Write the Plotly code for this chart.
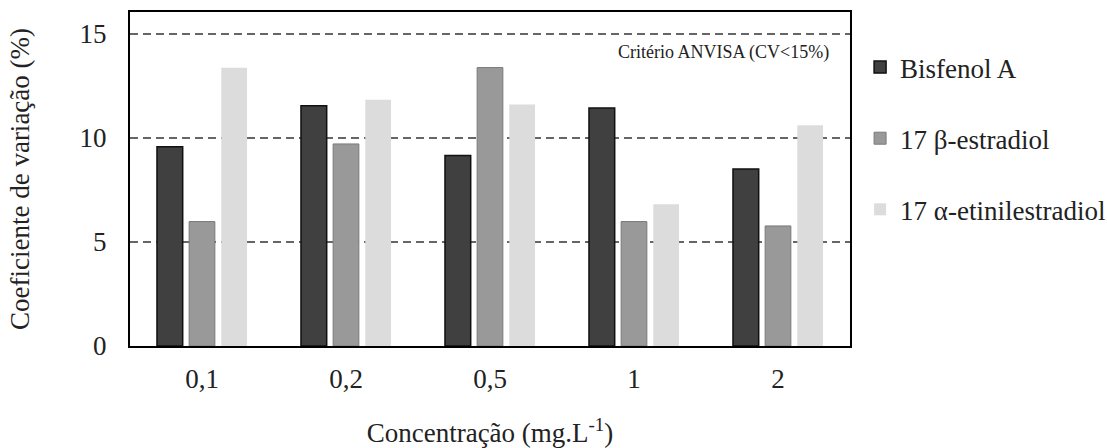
import plotly.graph_objects as go

categories = ["0,1", "0,2", "0,5", "1", "2"]
series_names = ["Bisfenol A", "17 β-estradiol", "17 α-etinilestradiol"]
bisfenol_a = [9.57, 11.54, 9.15, 11.44, 8.51]
beta_estradiol = [5.98, 9.71, 13.38, 5.98, 5.77]
alfa_etinilestradiol = [13.37, 11.83, 11.6, 6.81, 10.61]
y_ticks = [0, 5, 10, 15]
criterio_label = "Critério ANVISA (CV<15%)"

FONT = "Liberation Serif"
TXT = "#222222"
fills = ["#404040", "#999999", "#dcdcdc"]
outlines = ["#111111", "#7a7a7a", "#dcdcdc"]
widths = [1.5, 1, 0]

fig = go.Figure()
for i, (name, vals) in enumerate(zip(series_names, [bisfenol_a, beta_estradiol, alfa_etinilestradiol])):
    fig.add_trace(go.Bar(
        x=categories, y=vals, name=name, legendgroup=f"g{i}",
        marker=dict(color=fills[i], line=dict(color=outlines[i], width=widths[i])),
    ))

fig.add_annotation(
    text=criterio_label, xref="paper", yref="y", x=0.974, y=14.1,
    xanchor="right", yanchor="middle", showarrow=False,
    font=dict(family=FONT, size=18, color=TXT),
)

fig.update_layout(
    width=1107, height=448,
    margin=dict(l=130, r=257, t=12, b=102, autoexpand=False),
    paper_bgcolor="white", plot_bgcolor="white",
    barmode="group", bargap=0.33, bargroupgap=0.2,
    font=dict(family=FONT, size=27, color=TXT),
    legend=dict(
        x=1.014, y=0.907, xanchor="left", yanchor="top",
        tracegroupgap=33, font=dict(family=FONT, size=27, color=TXT),
    ),
    xaxis=dict(
        showline=True, mirror=True, linecolor="black", linewidth=2,
        ticks="", showgrid=False, ticklabelstandoff=8,
        title=dict(text="Concentração (mg.L<sup>-1</sup>)", font=dict(family=FONT, size=27, color=TXT), standoff=37),
        tickfont=dict(family=FONT, size=27, color=TXT),
    ),
    yaxis=dict(
        range=[0, 16.05], tickvals=y_ticks, ticktext=[str(v) for v in y_ticks],
        showline=True, mirror=True, linecolor="black", linewidth=2,
        showgrid=True, gridcolor="#666666", gridwidth=2, griddash="8px,5px",
        zeroline=False, ticks="", ticklabelstandoff=16,
        title=dict(text="Coeficiente de variação (%)", font=dict(family=FONT, size=27, color=TXT), standoff=42),
        tickfont=dict(family=FONT, size=27, color=TXT),
    ),
)

fig.write_html("out.html", config={"displayModeBar": False},
               post_script="document.body.style.margin='0';")
